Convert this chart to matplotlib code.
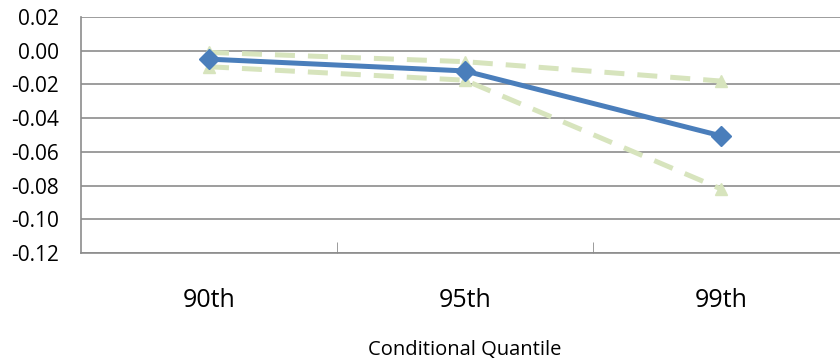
import numpy as np
import matplotlib.pyplot as plt

# datos
cuantiles = ["90th", "95th", "99th"]
estimado = [-0.005, -0.012, -0.0505]
banda_sup = [-0.001, -0.0065, -0.018]
banda_inf = [-0.0095, -0.0175, -0.082]

plt.rcParams['font.family'] = ['Open Sans', 'DejaVu Sans']

fig = plt.figure(figsize=(8.4, 3.64), dpi=100)
ax = fig.add_axes([81/840, 111/364, 768/840, 236/364])

x = np.arange(len(cuantiles))
verde = '#D7E4BD'
azul = '#4A7EBB'

ax.plot(x, banda_sup, color=verde, lw=3.6, ls=(0, (4, 2.6)), marker='^', ms=9, zorder=2)
ax.plot(x, banda_inf, color=verde, lw=3.6, ls=(0, (4, 2.6)), marker='^', ms=9, zorder=2)
ax.plot(x, estimado, color=azul, lw=3.6, marker='D', ms=10.5, zorder=3)

ax.set_xlim(-0.5, 2.5)
ax.set_ylim(-0.12, 0.02)
ax.set_yticks(np.arange(-0.12, 0.021, 0.02))
ax.set_yticklabels([f"{v:.2f}" for v in np.arange(-0.12, 0.021, 0.02)])
ax.yaxis.grid(True, color='#8C8C8C', lw=1.2)
ax.set_axisbelow(True)

ax.set_xticks(x)
ax.set_xticklabels(cuantiles, fontsize=18)
ax.set_xticks([0.5, 1.5], minor=True)
ax.tick_params(axis='x', which='major', length=0, pad=25)
ax.tick_params(axis='x', which='minor', direction='in', length=8, color='#8C8C8C')
ax.tick_params(axis='y', length=0, pad=16, labelsize=15)

for s in ['top', 'right']:
    ax.spines[s].set_visible(False)
for s in ['left', 'bottom']:
    ax.spines[s].set_color('#8C8C8C')
    ax.spines[s].set_linewidth(1.2)

ax.set_xlabel("Conditional Quantile", fontsize=14.5, labelpad=20)

plt.savefig("out.png", dpi=100)
